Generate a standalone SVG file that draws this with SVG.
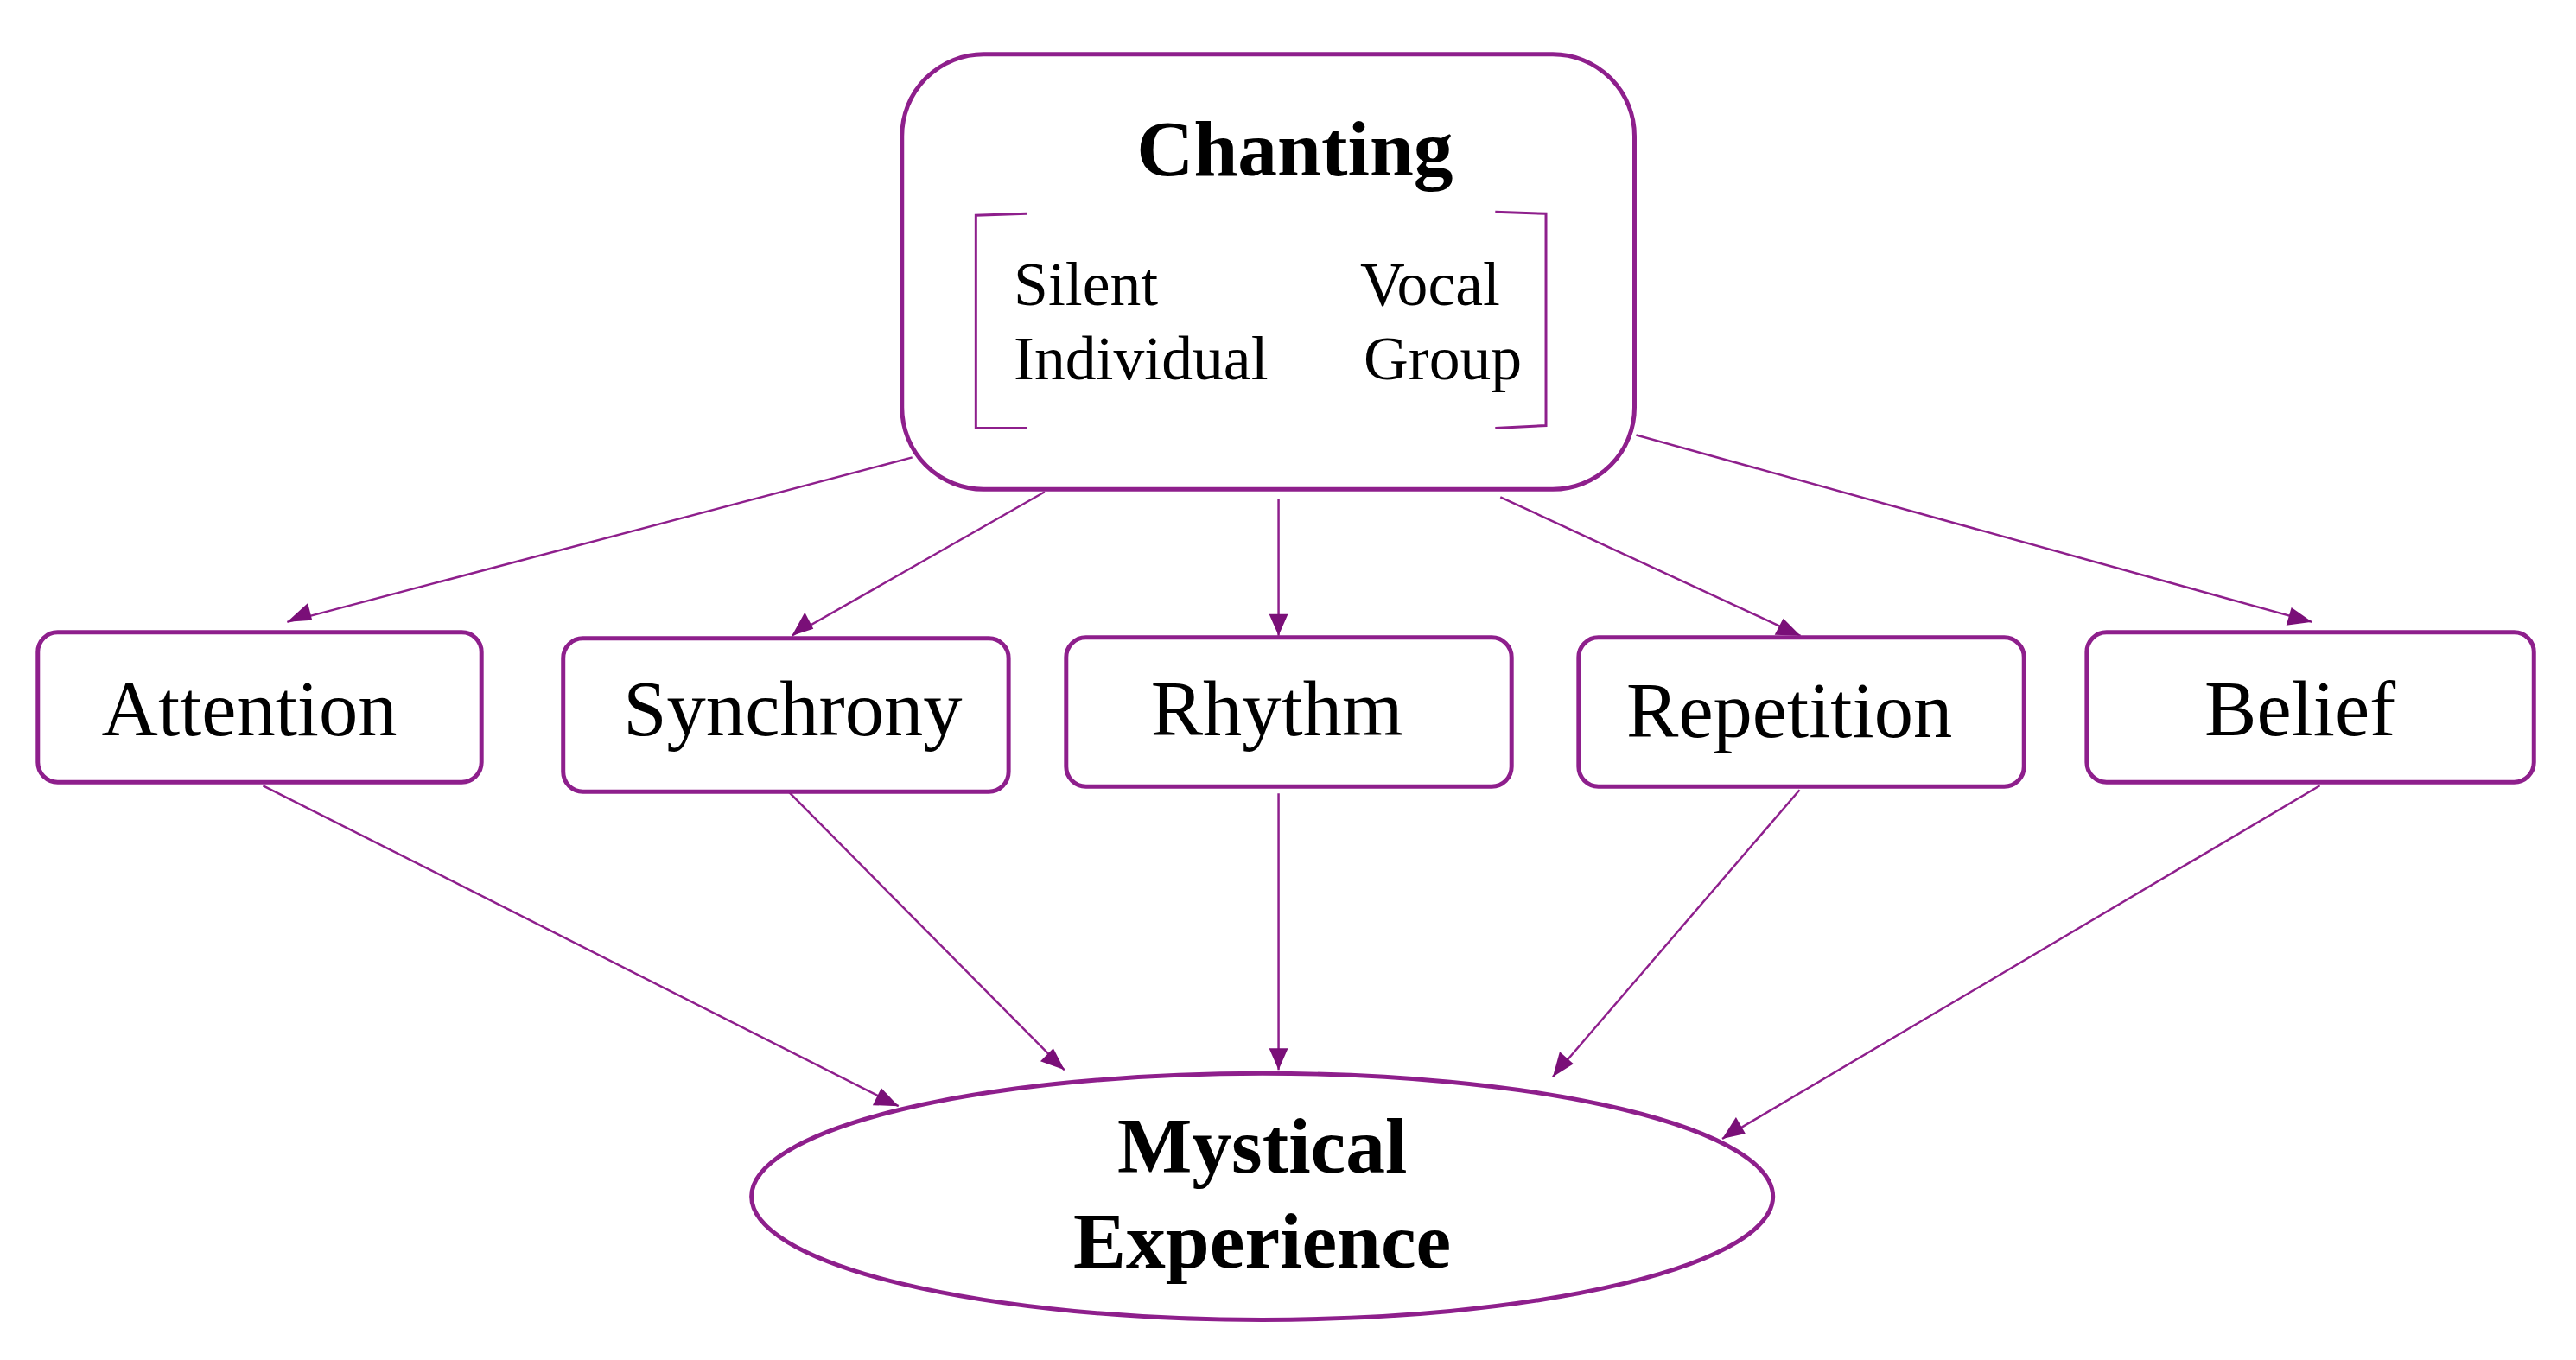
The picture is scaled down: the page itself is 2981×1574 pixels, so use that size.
<svg xmlns="http://www.w3.org/2000/svg" width="2981" height="1574" viewBox="0 0 2981 1574">
<style>
.box{fill:#fff;stroke:#8e1f8c;stroke-width:5}
.br{fill:none;stroke:#8e1f8c;stroke-width:3}
.c{stroke:#8e1f8c;stroke-width:2.5;fill:none}
.t{font-family:"Liberation Serif",serif;fill:#000}
.b{font-weight:bold}
.h{fill:#7a0f78}
</style>
<rect width="2981" height="1574" fill="#fff"/>
<g transform="scale(0.995,0.997)">
<g id="connectors">
<line class="c" x1="1061" y1="531" x2="334" y2="722"/>
<path class="h" d="M334,722 l24,-22 l5,20 z"/>
<line class="c" x1="1215" y1="571" x2="921" y2="738"/>
<path class="h" d="M921,738 l15,-27 l10,19 z"/>
<line class="c" x1="1487" y1="579" x2="1487" y2="738"/>
<path class="h" d="M1487,738 l-11,-25 l22,0 z"/>
<line class="c" x1="1745" y1="577" x2="2094" y2="738"/>
<path class="h" d="M2094,738 l-30,-1 l10,-19 z"/>
<line class="c" x1="1903" y1="505" x2="2689" y2="722"/>
<path class="h" d="M2689,722 l-30,4 l6,-21 z"/>
<line class="c" x1="306" y1="912" x2="1045" y2="1284"/>
<path class="h" d="M1045,1284 l-30,-1 l10,-20 z"/>
<line class="c" x1="917" y1="919" x2="1238" y2="1242"/>
<path class="h" d="M1238,1242 l-28,-10 l15,-15 z"/>
<line class="c" x1="1487" y1="921" x2="1487" y2="1242"/>
<path class="h" d="M1487,1242 l-11,-25 l22,0 z"/>
<line class="c" x1="2093" y1="917" x2="1806" y2="1250"/>
<path class="h" d="M1806,1250 l8,-29 l16,14 z"/>
<line class="c" x1="2698" y1="912" x2="2003" y2="1322"/>
<path class="h" d="M2003,1322 l16,-25 l11,19 z"/>
</g>
<g id="chanting">
<rect class="box" x="1049" y="63" width="852" height="505" rx="95"/>
<text class="t b" x="1506" y="204" font-size="92" text-anchor="middle">Chanting</text>
<path class="br" d="M1194,248 L1135,250 L1135,497 L1194,497"/>
<path class="br" d="M1739,246 L1798,248 L1798,494 L1739,497"/>
<text class="t" x="1179" y="354" font-size="72">Silent</text>
<text class="t" x="1179" y="440" font-size="72">Individual</text>
<text class="t" x="1582" y="354" font-size="72">Vocal</text>
<text class="t" x="1586" y="440" font-size="72">Group</text>
</g>
<g id="attention"><rect class="box" x="44" y="734" width="516" height="174" rx="23"/><text class="t" x="290" y="854" font-size="91" text-anchor="middle">Attention</text></g>
<g id="synchrony"><rect class="box" x="655" y="741" width="518" height="178" rx="23"/><text class="t" x="922" y="854" font-size="91" text-anchor="middle">Synchrony</text></g>
<g id="rhythm"><rect class="box" x="1240" y="740" width="518" height="173" rx="23"/><text class="t" x="1485" y="854" font-size="91" text-anchor="middle">Rhythm</text></g>
<g id="repetition"><rect class="box" x="1836" y="740" width="518" height="173" rx="23"/><text class="t" x="2081" y="856" font-size="91" text-anchor="middle">Repetition</text></g>
<g id="belief"><rect class="box" x="2427" y="734" width="520" height="174" rx="23"/><text class="t" x="2675" y="854" font-size="91" text-anchor="middle">Belief</text></g>
<g id="mystical">
<ellipse class="box" cx="1468" cy="1389" rx="594" ry="143"/>
<text class="t b" x="1468" y="1361" font-size="92" text-anchor="middle">Mystical</text>
<text class="t b" x="1468" y="1471" font-size="92" text-anchor="middle">Experience</text>
</g>
</g>
</svg>
